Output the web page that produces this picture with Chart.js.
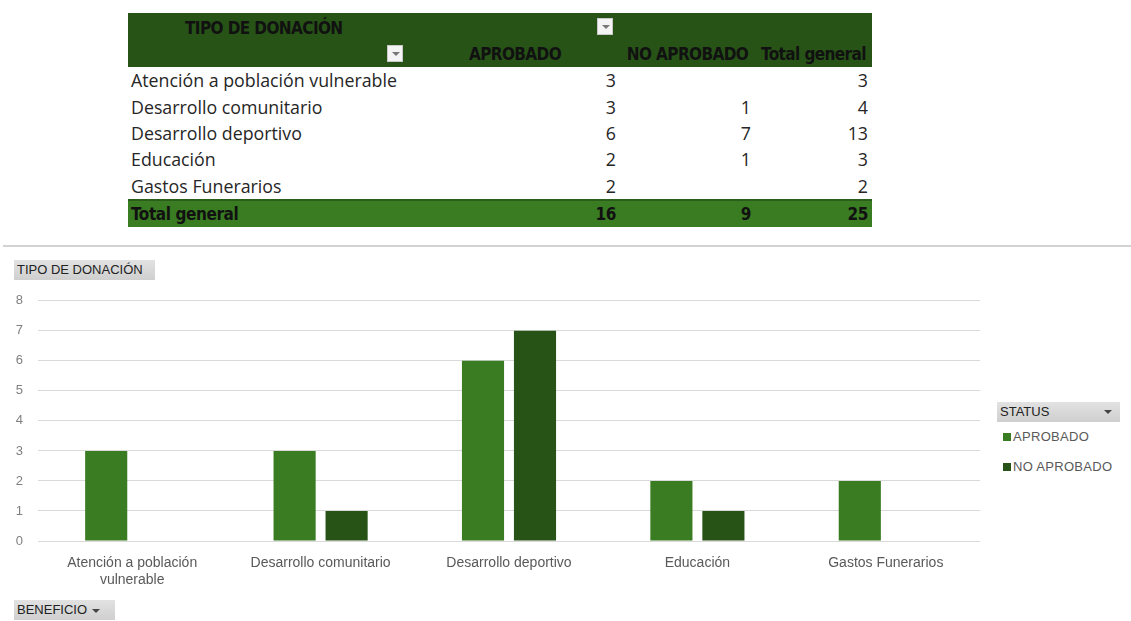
<!DOCTYPE html>
<html>
<head>
<meta charset="utf-8">
<script src="https://cdn.jsdelivr.net/npm/chart.js@4.4.1/dist/chart.umd.min.js"></script>
<style>
  body { margin: 0; width: 1131px; height: 621px; position: relative; background: #fff; overflow: hidden; }
  #pivot { position: absolute; left: 128px; top: 13px; border-collapse: collapse; table-layout: fixed; width: 744px; }
  #pivot td { padding: 0; height: 26.4px; font-family: "Open Sans", sans-serif; font-size: 17.8px; color: #262626; white-space: nowrap; }
  #pivot td.num { text-align: right; padding-right: 4px; }
  #pivot tr.head td { background: #275317; font-family: "DejaVu Sans Condensed", sans-serif; font-weight: bold; font-size: 17px; letter-spacing: -0.6px; color: #111; height: 27px; }
  #pivot tr.head td.c { text-align: center; }
  #pivot tr.total td { background: #3a7c22; font-family: "DejaVu Sans Condensed", sans-serif; font-weight: bold; font-size: 17px; letter-spacing: -0.4px; color: #111; border-top: 2px solid #2a5e1a; }
  .dd { position: absolute; width: 16px; height: 17px; background: #f4f4f4; border: 1px solid #c8c8c8; box-sizing: border-box; }
  .dd::after { content: ""; position: absolute; left: 4px; top: 6px; border-left: 4px solid transparent; border-right: 4px solid transparent; border-top: 4px solid #777; }
  #sep { position: absolute; left: 3px; right: 0; top: 245px; height: 2px; background: #d2d2d2; }
  .btn { position: absolute; height: 20px; background: linear-gradient(#e2e2e2, #cfcfcf); font-family: "Liberation Sans", Arial, sans-serif; font-size: 13px; color: #222; line-height: 20px; box-sizing: border-box; padding-left: 3px; }
  .btn .arr { display: inline-block; width: 0; height: 0; border-left: 4px solid transparent; border-right: 4px solid transparent; border-top: 4px solid #444; vertical-align: middle; margin-left: 5px; }
  #chartBox { position: absolute; left: 0; top: 278px; width: 990px; height: 320px; }
  #legend { position: absolute; left: 997px; top: 429px; font-family: "Liberation Sans", Arial, sans-serif; font-size: 13px; color: #595959; }
  #legend div { height: 30px; line-height: 16px; letter-spacing: 0.3px; }
  #legend span.sw { display: inline-block; width: 8px; height: 8px; margin: 0 2px 0 6px; vertical-align: 0px; }
</style>
</head>
<body>
<table id="pivot">
  <colgroup><col style="width:282px"><col style="width:210px"><col style="width:135px"><col style="width:117px"></colgroup>
  <tbody id="pivotBody"></tbody>
</table>
<div class="dd" style="left:597px; top:18px;"></div>
<div class="dd" style="left:387px; top:45px;"></div>
<div id="sep"></div>
<div class="btn" style="left:14px; top:260px; width:141px;">TIPO DE DONACIÓN</div>
<div id="chartBox"><canvas id="chart" width="990" height="320"></canvas></div>
<div class="btn" style="left:997px; top:402px; width:123px;">STATUS<span class="arr" style="position:absolute; right:8px; top:8px; margin:0;"></span></div>
<div id="legend"></div>
<div class="btn" style="left:14px; top:600px; width:101px;">BENEFICIO<span class="arr"></span></div>

<script>
const categories = ['Atención a población vulnerable', 'Desarrollo comunitario', 'Desarrollo deportivo', 'Educación', 'Gastos Funerarios'];
const seriesNames = ['APROBADO', 'NO APROBADO'];
const aprobado = [3, 3, 6, 2, 2];
const noAprobado = [null, 1, 7, 1, null];
const seriesColors = ['#3a7c22', '#275317'];
const yTicks = [0, 1, 2, 3, 4, 5, 6, 7, 8];

// Build the pivot table
const body = document.getElementById('pivotBody');
function row(cls, cells) {
  const tr = document.createElement('tr');
  if (cls) tr.className = cls;
  cells.forEach(c => {
    const td = document.createElement('td');
    td.textContent = c.text;
    if (c.cls) td.className = c.cls;
    if (c.style) td.style.cssText = c.style;
    tr.appendChild(td);
  });
  body.appendChild(tr);
}
const blank = v => (v === null || v === 0) ? '' : v;
row('head', [{ text: 'TIPO DE DONACIÓN', style: 'padding-left:57px; padding-top:3px; height:24px' }, { text: '' }, { text: '' }, { text: '' }]);
row('head', [{ text: '' }, { text: seriesNames[0], cls: 'c' }, { text: seriesNames[1], cls: 'c' }, { text: 'Total general', cls: 'c' }]);
categories.forEach((cat, i) => {
  const tot = (aprobado[i] || 0) + (noAprobado[i] || 0);
  row('', [{ text: cat, style: 'padding-left:3px' }, { text: blank(aprobado[i]), cls: 'num' }, { text: blank(noAprobado[i]), cls: 'num' }, { text: tot, cls: 'num' }]);
});
const sumA = aprobado.reduce((a, b) => a + (b || 0), 0);
const sumN = noAprobado.reduce((a, b) => a + (b || 0), 0);
row('total', [{ text: 'Total general', style: 'padding-left:3px' }, { text: sumA, cls: 'num' }, { text: sumN, cls: 'num' }, { text: sumA + sumN, cls: 'num' }]);

// Legend
const legend = document.getElementById('legend');
seriesNames.forEach((name, i) => {
  const d = document.createElement('div');
  d.innerHTML = '<span class="sw" style="background:' + seriesColors[i] + '"></span>' + name;
  legend.appendChild(d);
});

// Wrap long category labels like Excel does
function wrapLabel(label) {
  if (label.length <= 24) return label;
  const cut = label.lastIndexOf(' ', 21);
  return [label.slice(0, cut), label.slice(cut + 1)];
}

new Chart(document.getElementById('chart'), {
  type: 'bar',
  data: {
    labels: categories,
    datasets: [
      { label: seriesNames[0], data: aprobado, backgroundColor: seriesColors[0] },
      { label: seriesNames[1], data: noAprobado, backgroundColor: seriesColors[1] }
    ]
  },
  options: {
    responsive: false,
    animation: false,
    maintainAspectRatio: false,
    layout: { padding: { top: 2, right: 10, bottom: 7, left: 0 } },
    datasets: { bar: { categoryPercentage: 0.552, barPercentage: 0.81 } },
    plugins: { legend: { display: false }, tooltip: { enabled: false } },
    scales: {
      x: {
        grid: { display: false },
        border: { display: false },
        ticks: {
          color: '#595959',
          font: { family: 'Liberation Sans', size: 14 },
          maxRotation: 0,
          autoSkip: false,
          padding: 6,
          callback: function (v) { return wrapLabel(this.getLabelForValue(v)); }
        },
        afterFit: s => { s.height = 50; }
      },
      y: {
        min: 0,
        max: 8,
        afterBuildTicks: s => { s.ticks = yTicks.map(v => ({ value: v })); },
        grid: { color: '#d9d9d9', drawTicks: false },
        border: { display: false },
        ticks: { color: '#808080', font: { family: 'Liberation Sans', size: 13 }, padding: 15 },
        afterFit: s => { s.width = 38; }
      }
    }
  }
});
</script>
</body>
</html>
